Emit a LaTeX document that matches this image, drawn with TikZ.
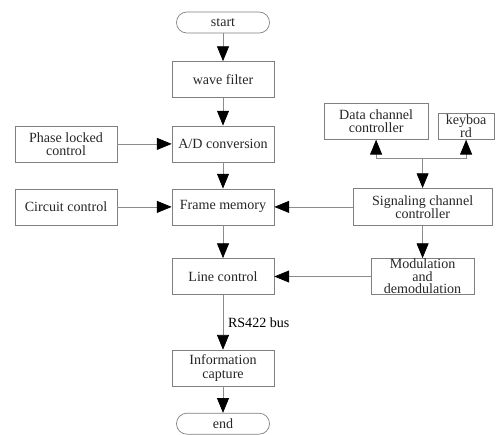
\documentclass[tikz,border=0pt]{standalone}
\usepackage{fontspec}
\setmainfont{Liberation Serif}
\usetikzlibrary{arrows.meta,positioning}
\definecolor{box-gray}{rgb}{0.50, 0.50, 0.50}
\definecolor{line-gray}{rgb}{0.55, 0.55, 0.55}

\begin{document}
\begin{tikzpicture}[node distance=1.6cm, font=\fontsize{10}{9.5}\selectfont,
		box/.style={draw=box-gray, line width=0.5pt, text=black!85, minimum width=2.55cm, minimum height=0.9cm, inner sep=0pt, align=center},
		term/.style={box, rounded corners=0.26cm, minimum width=2.325cm, minimum height=0.525cm},
		flow/.style={draw=line-gray, line width=0.5pt, -{Triangle[length=0.37cm, width=0.3cm, color=black]}}]
		\useasboundingbox (0,0) rectangle (12.4,-10.875);
		
		% Draw the main column
		\node (start) [term] at (5.575,-0.5625) {start};
		\node (filter) [box, below of=start, node distance=1.425cm] {wave filter};
		\node (adc) [box, below of=filter, node distance=1.61cm] {A/D conversion};
		\node (frame) [box, below of=adc, node distance=1.575cm] {Frame memory};
		\node (linectrl) [box, below of=frame, node distance=1.74cm] {Line control};
		\node (capture) [box, below of=linectrl, node distance=2.29cm] {Information\\capture};
		\node (stop) [term, below of=capture, node distance=1.39cm] {end};
		
		% Draw the control blocks on the left
		\node (pll) [box, left of=adc, node distance=3.925cm] {Phase locked\\control};
		\node (circuit) [box, left of=frame, node distance=3.925cm] {Circuit control};
		
		% Draw the channel blocks on the right
		\node (signal) [box, minimum width=3.475cm, minimum height=0.925cm, right of=frame, node distance=4.99cm] {Signaling channel\\controller};
		\node (modem) [box, minimum width=2.575cm, font=\fontsize{10}{9}\selectfont, right of=linectrl, node distance=4.99cm] {Modulation\\and\\demodulation};
		\node (data) [box, minimum width=2.6cm, above of=signal, node distance=2.1375cm, xshift=-1.1625cm] {Data channel\\controller};
		\node (keyboard) [box, minimum width=1.4cm, minimum height=0.65cm, above of=signal, node distance=2.0125cm, xshift=1.0875cm] {keyboa\\rd};
		\coordinate (bus) at ([yshift=0.75cm]signal.north);
		
		% Connect the main column with arrows
		\draw[flow] (start) -- (filter);
		\draw[flow] (filter) -- (adc);
		\draw[flow] (adc) -- (frame);
		\draw[flow] (frame) -- (linectrl);
		\draw[flow] (linectrl) -- node[right] {RS422 bus} (capture);
		\draw[flow] (capture) -- (stop);
		
		% Draw the side arrows
		\draw[flow] (pll) -- (adc);
		\draw[flow] (circuit) -- (frame);
		\draw[flow] (signal) -- (frame);
		\draw[flow] (signal) -- (modem);
		\draw[flow] (modem) -- (linectrl);
		\draw[flow] (bus) -- (signal);
		\draw[flow, {Triangle[length=0.37cm, width=0.3cm, color=black]}-{Triangle[length=0.37cm, width=0.3cm, color=black]}] (data.south) -- (data.south |- bus) -- (keyboard.south |- bus) -- (keyboard.south);
\end{tikzpicture}
\end{document}
